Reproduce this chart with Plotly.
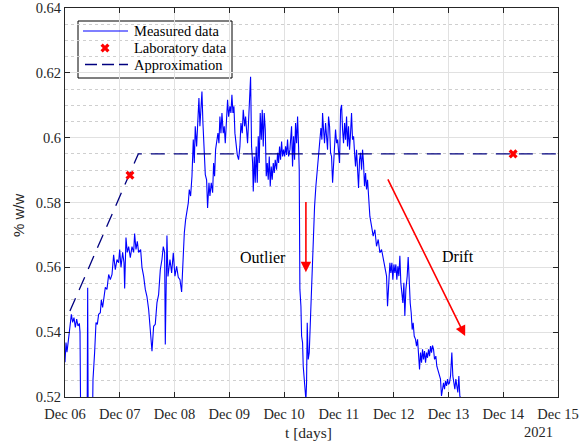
import pandas as pd
import plotly.graph_objects as go

# ---------------- data (days since 2021-12-06 00:00) ----------------
seg_a_days = [0.000,0.018,0.036,0.055,0.079,0.116,0.140,0.164,0.189,0.213,0.237,0.262,0.274,0.292,0.401,0.414,0.426,0.493,0.511,0.541,0.566,0.590,0.614,0.645,0.663,0.687,0.712,0.736,0.766,0.797,0.827,0.858,0.888,0.918,0.949,0.979,0.998,1.022,1.052,1.077,1.089,1.113,1.137,1.162,1.192,1.223,1.253,1.271,1.296,1.320,1.344,1.381,1.405,1.436,1.466,1.496,1.527,1.557,1.588,1.618,1.648,1.679,1.709,1.740,1.770,1.794,1.819,1.831,1.861,1.880,1.904]
seg_a_vals = [0.5307,0.5368,0.5338,0.5378,0.5400,0.5455,0.5430,0.5445,0.5415,0.5440,0.5419,0.5427,0.5400,0.5000,0.5000,0.5537,0.5000,0.5000,0.5254,0.5338,0.5430,0.5424,0.5455,0.5460,0.5500,0.5476,0.5516,0.5538,0.5532,0.5578,0.5562,0.5578,0.5639,0.5593,0.5624,0.5614,0.5655,0.5600,0.5646,0.5614,0.5535,0.5692,0.5646,0.5664,0.5630,0.5664,0.5646,0.5704,0.5655,0.5680,0.5646,0.5655,0.5600,0.5572,0.5532,0.5510,0.5470,0.5415,0.5341,0.5418,0.5424,0.5491,0.5516,0.5593,0.5624,0.5664,0.5646,0.5362,0.5698,0.5572,0.5614]

seg_b_days = [1.916,1.947,1.977,2.007,2.038,2.068,2.099,2.129,2.159,2.178,2.202,2.220,2.251,2.269,2.293,2.318,2.342,2.360,2.378,2.403,2.427,2.445,2.463,2.482,2.500,2.518,2.536,2.561,2.585,2.603,2.628,2.646,2.670,2.695,2.713,2.731,2.749,2.768,2.792,2.810,2.828,2.847,2.865,2.889,2.907,2.926,2.950,2.968,2.987,3.011,3.029,3.047,3.066,3.084,3.102,3.120,3.145,3.169,3.193,3.212,3.236,3.254,3.279,3.297,3.315,3.333,3.352,3.370,3.388,3.406,3.425,3.437,3.455,3.473,3.491,3.510,3.528,3.546,3.564,3.583,3.601,3.619,3.637,3.656,3.674,3.692,3.710,3.729,3.747,3.765,3.783,3.802,3.820,3.838,3.862,3.881,3.899,3.917,3.935,3.954,3.972,3.990,4.009,4.027,4.045,4.063,4.082]
seg_b_vals = [0.5624,0.5583,0.5645,0.5573,0.5603,0.5569,0.5562,0.5524,0.5645,0.5706,0.5747,0.5763,0.5799,0.5840,0.5820,0.5881,0.5994,0.5922,0.6035,0.5973,0.6055,0.6122,0.6035,0.6105,0.6142,0.6045,0.5973,0.5886,0.5870,0.5783,0.5861,0.5820,0.5861,0.5830,0.5922,0.5881,0.5963,0.5983,0.6014,0.5983,0.6065,0.6014,0.6076,0.6014,0.6035,0.5983,0.6065,0.6117,0.6065,0.6097,0.6076,0.6132,0.6076,0.6097,0.6014,0.5973,0.5947,0.5932,0.5973,0.6045,0.6014,0.6086,0.6035,0.6065,0.6014,0.5983,0.6055,0.6117,0.6188,0.5973,0.5922,0.5834,0.5942,0.5861,0.5973,0.5861,0.6004,0.5922,0.6076,0.5994,0.6086,0.5973,0.6076,0.6025,0.5881,0.5922,0.5870,0.5942,0.5850,0.5911,0.5870,0.5922,0.5891,0.5932,0.5901,0.5953,0.5922,0.5973,0.5932,0.5988,0.5942,0.5963,0.5942,0.5973,0.5947,0.5994,0.5942]

seg_c_days = [4.106,4.136,4.154,4.173,4.191,4.209,4.228,4.246,4.264,4.276,4.288,4.307,4.319,4.337,4.349,4.367,4.386,4.398,4.410,4.422,4.440,4.459,4.483,4.507,4.532,4.556,4.580,4.605,4.629,4.653,4.672,4.690,4.702,4.720,4.738,4.757,4.775,4.793,4.811,4.830,4.848,4.866,4.885,4.903,4.921,4.939,4.958,4.976,4.994,5.012,5.031,5.049,5.067,5.085,5.104,5.122,5.140,5.158,5.176,5.195,5.213,5.231,5.249,5.268,5.286,5.304,5.322,5.341,5.359,5.377,5.395,5.414,5.432,5.450,5.468,5.487,5.505,5.523,5.541]
seg_c_vals = [0.5963,0.6035,0.5911,0.6004,0.5932,0.6045,0.5983,0.6065,0.5973,0.5901,0.5532,0.5480,0.5388,0.5367,0.5295,0.5244,0.5203,0.5190,0.5244,0.5429,0.5316,0.5337,0.5450,0.5573,0.5696,0.5788,0.5850,0.5901,0.5942,0.6014,0.6030,0.5994,0.6076,0.6025,0.5983,0.6045,0.6004,0.5963,0.6065,0.6035,0.5953,0.5942,0.5861,0.5942,0.5973,0.6025,0.5983,0.5994,0.5942,0.5922,0.6086,0.6101,0.6025,0.5983,0.6045,0.5994,0.6065,0.5973,0.6035,0.5963,0.6014,0.6076,0.5994,0.6004,0.5953,0.5911,0.5963,0.5891,0.5845,0.5932,0.5953,0.5901,0.5963,0.5922,0.5850,0.5891,0.5840,0.5870,0.5830]

seg_d_days = [5.566,5.596,5.626,5.657,5.687,5.718,5.748,5.779,5.809,5.839,5.870,5.888,5.912,5.931,5.949,5.967,5.985,6.004,6.022,6.040,6.058,6.077,6.095,6.113,6.131,6.150,6.168,6.186,6.204,6.223,6.247,6.265,6.283,6.302,6.320,6.338,6.356,6.375,6.399,6.417,6.436,6.454,6.472,6.490,6.509,6.527,6.545,6.563,6.582,6.600,6.618,6.636,6.655,6.673,6.691,6.709,6.728,6.746,6.770,6.788,6.807,6.831,6.855,6.873,6.892,6.910,6.928,6.946,6.965,6.983,7.001,7.019,7.038,7.062,7.080,7.098,7.117,7.135,7.153,7.171,7.190,7.208,7.238]
seg_d_vals = [0.5757,0.5727,0.5696,0.5716,0.5665,0.5686,0.5645,0.5655,0.5624,0.5603,0.5573,0.5480,0.5552,0.5614,0.5583,0.5614,0.5562,0.5609,0.5583,0.5609,0.5562,0.5603,0.5573,0.5636,0.5552,0.5521,0.5490,0.5552,0.5450,0.5532,0.5573,0.5632,0.5542,0.5490,0.5460,0.5408,0.5429,0.5388,0.5378,0.5357,0.5378,0.5326,0.5285,0.5337,0.5306,0.5347,0.5316,0.5342,0.5306,0.5337,0.5321,0.5347,0.5326,0.5357,0.5337,0.5359,0.5347,0.5316,0.5326,0.5295,0.5285,0.5275,0.5255,0.5203,0.5224,0.5244,0.5224,0.5249,0.5234,0.5255,0.5239,0.5244,0.5265,0.5337,0.5265,0.5244,0.5224,0.5255,0.5234,0.5214,0.5265,0.5203,0.5190]

lab_days = [1.186, 8.181]
lab_vals = [0.5884, 0.5950]

approx_days = [0.090, 1.338, 9.000]
approx_vals = [0.5465, 0.5950, 0.5950]

y_ticks = [0.52, 0.54, 0.56, 0.58, 0.60, 0.62, 0.64]
y_ticktext = ["0.52", "0.54", "0.56", "0.58", "0.6", "0.62", "0.64"]
x_tick_days = [0, 1, 2, 3, 4, 5, 6, 7, 8, 9]
x_ticktext = ["Dec 06", "Dec 07", "Dec 08", "Dec 09", "Dec 10",
              "Dec 11", "Dec 12", "Dec 13", "Dec 14", "Dec 15"]

legend_names = ["Measured data", "Laboratory data", "Approximation"]

outlier_arrow = {"days": (4.398, 4.398), "vals": (0.5806, 0.5585)}
drift_arrow = {"days": (5.881, 7.305), "vals": (0.5876, 0.5388)}
labels = [("Outlier", 3.61, 0.5630), ("Drift", 7.17, 0.5632)]

# ---------------- build ----------------
for d, v in [(seg_a_days, seg_a_vals), (seg_b_days, seg_b_vals),
             (seg_c_days, seg_c_vals), (seg_d_days, seg_d_vals)]:
    assert len(d) == len(v), (len(d), len(v))

base = pd.Timestamp("2021-12-06")
def to_t(days):
    return [base + pd.Timedelta(days=float(x)) for x in days]

meas_days = seg_a_days + seg_b_days + seg_c_days + seg_d_days
meas_vals = seg_a_vals + seg_b_vals + seg_c_vals + seg_d_vals

SERIF = "Liberation Serif, Times New Roman, serif"
SANS = "Liberation Sans, Arial, sans-serif"
AX = "#262626"
BLUE = "#0000ff"
NAVY = "#00007f"
RED = "#ff0000"
DASH = "14px,9px"

W, H = 581, 444
ML, MR, MT, MB = 65, 23, 8, 47
PW, PH = W - ML - MR, H - MT - MB
def px(xp):  # pixel -> paper x
    return (xp - ML) / PW
def py(yp):  # pixel -> paper y
    return (H - MB - yp) / PH

fig = go.Figure()
fig.add_trace(go.Scatter(x=to_t(meas_days), y=meas_vals, mode="lines",
                         name=legend_names[0], showlegend=False,
                         line=dict(color=BLUE, width=1.1)))
fig.add_trace(go.Scatter(x=to_t(approx_days), y=approx_vals, mode="lines",
                         name=legend_names[2], showlegend=False,
                         line=dict(color=NAVY, width=1.3, dash=DASH)))
fig.add_trace(go.Scatter(x=to_t(lab_days), y=lab_vals, mode="markers",
                         name=legend_names[1], showlegend=False,
                         marker=dict(symbol="x", size=8, color=RED, line=dict(width=0))))

# ---- legend box drawn by hand (MATLAB-like compact layout) ----
shapes = [dict(type="rect", xref="paper", yref="paper",
               x0=px(78), x1=px(232), y0=py(78), y1=py(21),
               line=dict(color="black", width=1), fillcolor="white", layer="between")]
rows = [31, 48, 64.5]
shapes.append(dict(type="line", xref="paper", yref="paper", x0=px(83), x1=px(128),
                   y0=py(rows[0]), y1=py(rows[0]), line=dict(color=BLUE, width=1.1), layer="above"))
shapes.append(dict(type="line", xref="paper", yref="paper", x0=px(85), x1=px(128),
                   y0=py(rows[2]), y1=py(rows[2]), line=dict(color=NAVY, width=1.3, dash="12px,5px"),
                   layer="above"))
fig.add_trace(go.Scatter(x=[px(105)], y=[py(rows[1])], xaxis="x2", yaxis="y2", mode="markers",
                         showlegend=False, hoverinfo="skip",
                         marker=dict(symbol="x", size=8, color=RED, line=dict(width=0))))

annotations = []
for name, r in zip(legend_names, rows):
    annotations.append(dict(x=px(132), y=py(r), xref="paper", yref="paper", text=name,
                            showarrow=False, xanchor="left", yanchor="middle",
                            font=dict(family=SERIF, size=14.5, color="black")))
for arr in (outlier_arrow, drift_arrow):
    t0, t1 = to_t(arr["days"])
    annotations.append(dict(x=t1, y=arr["vals"][1], ax=t0, ay=arr["vals"][0],
                            xref="x", yref="y", axref="x", ayref="y",
                            showarrow=True, arrowhead=2, arrowsize=1.3,
                            arrowwidth=1.6, arrowcolor=RED, text=""))
for txt, d, v in labels:
    annotations.append(dict(x=to_t([d])[0], y=v, xref="x", yref="y", text=txt,
                            showarrow=False, font=dict(family=SERIF, size=16, color="black")))
annotations.append(dict(x=px(538), y=py(432), xref="paper", yref="paper", text="2021",
                        showarrow=False, xanchor="center", yanchor="middle",
                        font=dict(family=SERIF, size=14.5, color=AX)))
annotations.append(dict(x=px(308), y=py(432), xref="paper", yref="paper", text="t [days]",
                        showarrow=False, xanchor="center", yanchor="middle",
                        font=dict(family=SERIF, size=15.5, color=AX)))
annotations.append(dict(x=-(ML - 18) / PW, y=py(215), xref="paper", yref="paper", text="% w/w",
                        showarrow=False, xanchor="center", yanchor="middle", textangle=-90,
                        font=dict(family=SANS, size=15, color=AX)))

fig.update_layout(
    width=W, height=H,
    margin=dict(l=ML, r=MR, t=MT, b=MB),
    paper_bgcolor="white", plot_bgcolor="white",
    showlegend=False,
    annotations=annotations,
    shapes=shapes,
    xaxis=dict(type="date", range=[to_t([0])[0], to_t([9])[0]],
               tickvals=to_t(x_tick_days), ticktext=x_ticktext,
               showgrid=True, gridcolor="#e1e1e1", gridwidth=1,
               showline=True, linecolor=AX, linewidth=1, mirror="allticks",
               ticks="inside", ticklen=5, tickcolor=AX, ticklabelstandoff=4,
               tickfont=dict(family=SERIF, size=14.5, color=AX),
               automargin=False, zeroline=False),
    yaxis=dict(range=[0.52, 0.64], tickvals=y_ticks, ticktext=y_ticktext,
               showgrid=True, gridcolor="#e1e1e1", gridwidth=1,
               minor=dict(tick0=0.52, dtick=0.005, showgrid=True, griddash="dot",
                          gridcolor="#cfcfcf", gridwidth=1, ticks=""),
               showline=True, linecolor=AX, linewidth=1, mirror="allticks",
               ticks="inside", ticklen=5, tickcolor=AX,
               tickfont=dict(family=SERIF, size=14.5, color=AX),
               automargin=False, zeroline=False),
    xaxis2=dict(overlaying="x", range=[0, 1], visible=False, fixedrange=True),
    yaxis2=dict(overlaying="y", range=[0, 1], visible=False, fixedrange=True),
)

fig.write_html("out.html")
